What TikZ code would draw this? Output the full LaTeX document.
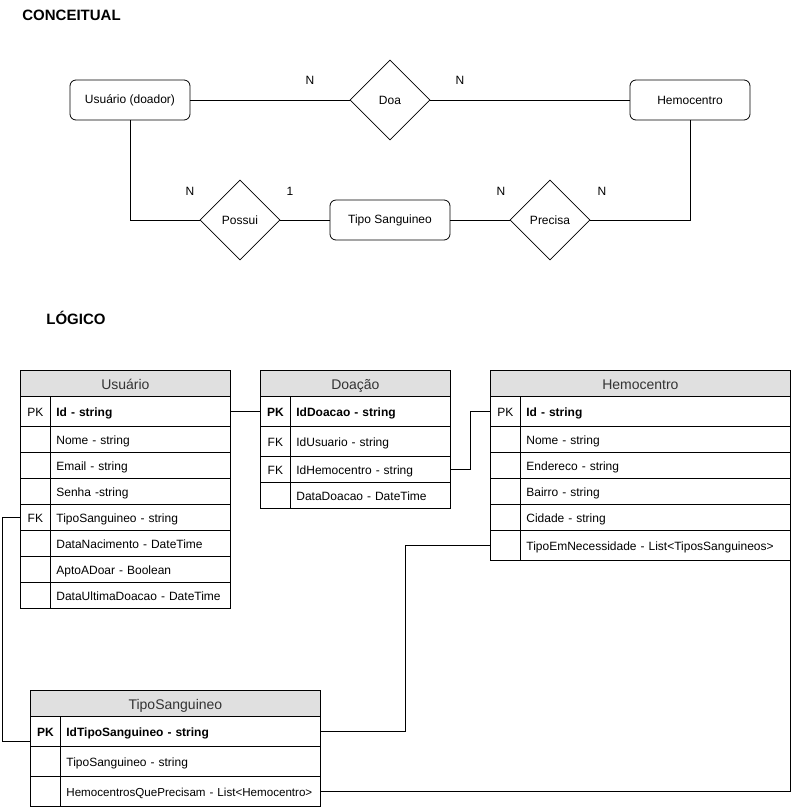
\documentclass[tikz,border=0pt]{standalone}
\usepackage{fontspec}
\setmainfont{Liberation Sans}
\usetikzlibrary{shapes.geometric}
\definecolor{hdrgray}{RGB}{224,224,224}
\definecolor{txtgray}{RGB}{51,51,51}

\tikzset{
  entity/.style={draw, rounded corners=6pt, minimum width=120pt, minimum height=40pt, font=\fontsize{12}{14}\selectfont},
  relation/.style={draw, diamond, minimum width=80pt, minimum height=80pt, inner sep=0pt, font=\fontsize{12}{14}\selectfont},
  card/.style={inner sep=0pt, font=\fontsize{12}{14}\selectfont},
  title/.style={anchor=west, inner sep=0pt, font=\fontsize{15}{18}\selectfont\bfseries},
  thead/.style={draw, fill=hdrgray, anchor=north west, minimum width=#1, minimum height=26pt, inner sep=0pt, text height=14pt, text depth=2pt, text=txtgray, font=\fontsize{14}{16}\selectfont},
  tkey/.style={draw, anchor=north west, minimum width=30pt, minimum height=#1, inner sep=0pt, text height=11pt, text depth=0pt, font=\fontsize{12}{14}\selectfont},
  tkey/.default=26pt,
  tfield/.style={draw, anchor=north west, minimum width=#1, text width=#1-12pt, inner xsep=6pt, inner ysep=0pt, text height=11pt, text depth=0pt, align=left, font=\fontsize{12}{14}\selectfont},
  rowh/.style={minimum height=#1},
  link/.style={draw, line width=0.8pt}
}

\begin{document}
\begin{tikzpicture}[x=1pt, y=-1pt, line width=0.8pt]
\useasboundingbox (0,0) rectangle (792,807);

% conceitual
\node[title] (tconc) at (22,15.5) {CONCEITUAL};
\node[entity] (usuario) at (130,100) {Usuário (doador)};
\node[relation] (doa) at (390,100) {Doa};
\node[entity] (hemo) at (690,100) {Hemocentro};
\node[relation] (possui) at (240,220) {Possui};
\node[entity] (tipo) at (390,220) {Tipo Sanguineo};
\node[relation] (precisa) at (550,220) {Precisa};

\draw[link] (usuario.east) -- (doa.west);
\draw[link] (doa.east) -- (hemo.west);
\draw[link] (usuario.south) |- (possui.west);
\draw[link] (possui.east) -- (tipo.west);
\draw[link] (tipo.east) -- (precisa.west);
\draw[link] (precisa.east) -| (hemo.south);

\node[card] (c1) at (310,80) {N};
\node[card] (c2) at (460,80) {N};
\node[card] (c3) at (190,191) {N};
\node[card] (c4) at (290,191) {1};
\node[card] (c5) at (501,191) {N};
\node[card] (c6) at (602,191) {N};

% logico
\node[title] (tlog) at (46,318) {LÓGICO};

% Usuario
\node[thead=210pt] (usu) at (20,370) {Usuário};
\node[tkey=30pt] (usuPK) at (20,396) {PK};
\node[tfield=180pt, rowh=30pt] (usuPKf) at (50,396) {\textbf{Id - string}};
\node[tkey] (usuNome) at (20,426) {};
\node[tfield=180pt, rowh=26pt] (usuNomef) at (50,426) {Nome - string};
\node[tkey] (usuEmail) at (20,452) {};
\node[tfield=180pt, rowh=26pt] (usuEmailf) at (50,452) {Email - string};
\node[tkey] (usuSenha) at (20,478) {};
\node[tfield=180pt, rowh=26pt] (usuSenhaf) at (50,478) {Senha -string};
\node[tkey] (usuFK) at (20,504) {FK};
\node[tfield=180pt, rowh=26pt] (usuFKf) at (50,504) {TipoSanguineo - string};
\node[tkey] (usuNasc) at (20,530) {};
\node[tfield=180pt, rowh=26pt] (usuNascf) at (50,530) {DataNacimento - DateTime};
\node[tkey] (usuApto) at (20,556) {};
\node[tfield=180pt, rowh=26pt] (usuAptof) at (50,556) {AptoADoar - Boolean};
\node[tkey] (usuUlt) at (20,582) {};
\node[tfield=180pt, rowh=26pt] (usuUltf) at (50,582) {DataUltimaDoacao - DateTime};

% Doacao
\node[thead=190pt] (doac) at (260,370) {Doação};
\node[tkey=30pt] (doaPK) at (260,396) {\textbf{PK}};
\node[tfield=160pt, rowh=30pt] (doaPKf) at (290,396) {\textbf{IdDoacao - string}};
\node[tkey=30pt] (doaUsu) at (260,426) {FK};
\node[tfield=160pt, rowh=30pt] (doaUsuf) at (290,426) {IdUsuario - string};
\node[tkey] (doaHem) at (260,456) {FK};
\node[tfield=160pt, rowh=26pt] (doaHemf) at (290,456) {IdHemocentro - string};
\node[tkey] (doaData) at (260,482) {};
\node[tfield=160pt, rowh=26pt] (doaDataf) at (290,482) {DataDoacao - DateTime};

% Hemocentro
\node[thead=300pt] (hem) at (490,370) {Hemocentro};
\node[tkey=30pt] (hemPK) at (490,396) {PK};
\node[tfield=270pt, rowh=30pt] (hemPKf) at (520,396) {\textbf{Id - string}};
\node[tkey] (hemNome) at (490,426) {};
\node[tfield=270pt, rowh=26pt] (hemNomef) at (520,426) {Nome - string};
\node[tkey] (hemEnd) at (490,452) {};
\node[tfield=270pt, rowh=26pt] (hemEndf) at (520,452) {Endereco - string};
\node[tkey] (hemBai) at (490,478) {};
\node[tfield=270pt, rowh=26pt] (hemBaif) at (520,478) {Bairro - string};
\node[tkey] (hemCid) at (490,504) {};
\node[tfield=270pt, rowh=26pt] (hemCidf) at (520,504) {Cidade - string};
\node[tkey=30pt] (hemTipo) at (490,530) {};
\node[tfield=270pt, rowh=30pt] (hemTipof) at (520,530) {TipoEmNecessidade - List<TiposSanguineos>};

% TipoSanguineo
\node[thead=290pt] (tip) at (30,690) {TipoSanguineo};
\node[tkey=30pt] (tipPK) at (30,716) {\textbf{PK}};
\node[tfield=260pt, rowh=30pt] (tipPKf) at (60,716) {\textbf{IdTipoSanguineo - string}};
\node[tkey=30pt] (tipNome) at (30,746) {};
\node[tfield=260pt, rowh=30pt] (tipNomef) at (60,746) {TipoSanguineo - string};
\node[tkey=30pt] (tipHem) at (30,776) {};
\node[tfield=260pt, rowh=30pt] (tipHemf) at (60,776) {\mbox{\fontsize{11.6}{14}\selectfont HemocentrosQuePrecisam - List<Hemocentro>}};

% ligacoes
\draw[link] (usuPKf.east) -- (doaPK.west);
\draw[link] (doaHemf.east) -- ++(20,0) |- (hemPK.west);
\draw[link] (usuFK.west) -- ++(-18,0) |- ([yshift=-10pt]tipPK.west);
\draw[link] (tipPKf.east) -- ++(85,0) |- (hemTipo.west);
\draw[link] (tipHemf.east) -| (hemTipof.south east);
\end{tikzpicture}
\end{document}
